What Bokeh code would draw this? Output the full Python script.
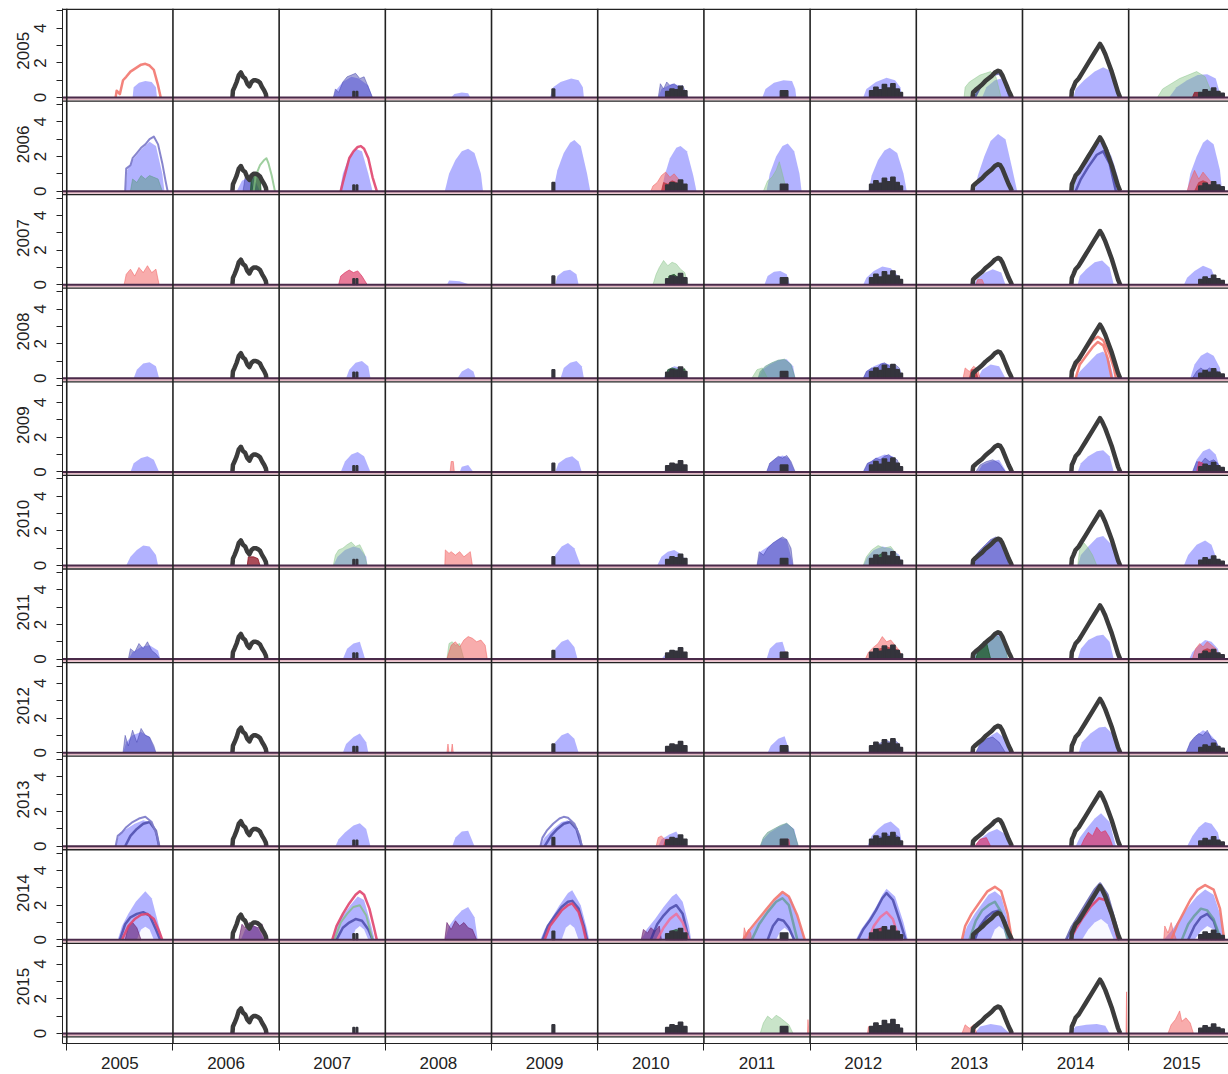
from bokeh.plotting import figure
from bokeh.models import Range1d, FixedTicker, LinearAxis
from bokeh.embed import file_html
from bokeh.resources import INLINE

YEARS = [2005, 2006, 2007, 2008, 2009, 2010, 2011, 2012, 2013, 2014, 2015]
YLAB = ["0", "", "2", "", "4", ""]

# ---- observed series (black), same in every row of a column ----
BLACK_LINE = {
    2006: ([0.56, 0.565, 0.58, 0.6, 0.62, 0.64, 0.66, 0.68, 0.7, 0.72, 0.74, 0.76, 0.78, 0.8, 0.82, 0.84, 0.86, 0.875, 0.88],
           [0, 0.4, 0.6, 0.9, 1.3, 1.45, 1.2, 1.1, 0.8, 0.65, 0.9, 1.0, 1.0, 0.95, 0.85, 0.6, 0.4, 0.2, 0]),
    2013: ([0.53, 0.535, 0.56, 0.59, 0.62, 0.65, 0.68, 0.71, 0.74, 0.77, 0.79, 0.81, 0.83, 0.85, 0.87, 0.89, 0.9],
           [0, 0.3, 0.45, 0.6, 0.75, 0.95, 1.1, 1.25, 1.45, 1.55, 1.5, 1.3, 1.0, 0.7, 0.4, 0.15, 0]),
    2014: ([0.46, 0.465, 0.48, 0.5, 0.53, 0.56, 0.59, 0.62, 0.65, 0.68, 0.71, 0.73, 0.75, 0.78, 0.81, 0.84, 0.87, 0.9, 0.92],
           [0, 0.4, 0.6, 0.9, 1.1, 1.4, 1.7, 2.0, 2.3, 2.6, 2.9, 3.1, 2.9, 2.5, 2.0, 1.5, 0.9, 0.3, 0]),
}
BLACK_BLOCK = {
    2007: [(0.695, 0.71, 0.35), (0.725, 0.74, 0.35)],
    2009: [(0.57, 0.595, 0.5)],
    2010: [(0.64, 0.68, 0.35), (0.68, 0.72, 0.5), (0.72, 0.76, 0.45), (0.76, 0.8, 0.65), (0.8, 0.84, 0.4)],
    2011: [(0.72, 0.79, 0.4)],
    2012: [(0.56, 0.6, 0.4), (0.6, 0.64, 0.6), (0.64, 0.68, 0.45), (0.68, 0.72, 0.75), (0.72, 0.76, 0.55),
           (0.76, 0.8, 0.8), (0.8, 0.84, 0.5), (0.84, 0.87, 0.3)],
    2015: [(0.66, 0.7, 0.3), (0.7, 0.74, 0.45), (0.74, 0.78, 0.35), (0.78, 0.82, 0.55), (0.82, 0.86, 0.35), (0.86, 0.9, 0.25)],
}

# ---- blue prediction envelopes: row year -> {column year: (x fractions, values)} ----
BLUE_2005 = {
    2005: ([0.62, 0.63, 0.68, 0.74, 0.8, 0.84, 0.85], [0, 0.6, 0.85, 0.95, 0.9, 0.6, 0]),
    2007: ([0.51, 0.53, 0.6, 0.68, 0.75, 0.84, 0.88], [0, 0.4, 0.9, 1.2, 1.1, 0.7, 0]),
    2008: ([0.62, 0.65, 0.72, 0.78, 0.8], [0, 0.2, 0.3, 0.25, 0]),
    2009: ([0.55, 0.58, 0.65, 0.75, 0.82, 0.86, 0.87], [0, 0.6, 0.9, 1.1, 1.0, 0.6, 0]),
    2010: ([0.57, 0.6, 0.7, 0.78, 0.85], [0, 0.5, 0.8, 0.7, 0]),
    2011: ([0.55, 0.58, 0.66, 0.75, 0.83, 0.86, 0.87], [0, 0.5, 0.85, 1.0, 0.95, 0.5, 0]),
    2012: ([0.5, 0.53, 0.62, 0.72, 0.8, 0.85, 0.87], [0, 0.5, 0.9, 1.15, 1.0, 0.6, 0]),
    2013: ([0.62, 0.66, 0.74, 0.8, 0.86, 0.89], [0, 0.6, 1.0, 1.1, 0.6, 0]),
    2014: ([0.48, 0.5, 0.58, 0.68, 0.76, 0.84, 0.88, 0.9], [0, 0.5, 1.0, 1.5, 1.75, 1.5, 0.8, 0]),
    2015: ([0.38, 0.45, 0.55, 0.65, 0.74, 0.82, 0.87], [0, 0.6, 1.0, 1.3, 1.35, 1.1, 0]),
}
BLUE_2006 = {
    2005: ([0.55, 0.57, 0.62, 0.7, 0.78, 0.84, 0.9, 0.92], [0, 1.2, 1.8, 2.4, 2.85, 2.6, 1.0, 0]),
    2006: ([0.6, 0.65, 0.75, 0.82], [0, 0.6, 0.9, 0]),
    2007: ([0.57, 0.6, 0.66, 0.72, 0.78, 0.84, 0.88], [0, 1.0, 2.0, 2.45, 2.3, 1.0, 0]),
    2008: ([0.56, 0.6, 0.66, 0.72, 0.78, 0.84, 0.9, 0.92], [0, 1.0, 1.8, 2.3, 2.45, 2.2, 1.0, 0]),
    2009: ([0.58, 0.62, 0.68, 0.74, 0.78, 0.84, 0.9, 0.93], [0, 1.2, 2.2, 2.8, 2.95, 2.6, 1.0, 0]),
    2010: ([0.6, 0.63, 0.68, 0.74, 0.78, 0.84, 0.9, 0.93], [0, 0.9, 1.9, 2.5, 2.6, 2.3, 0.9, 0]),
    2011: ([0.59, 0.62, 0.68, 0.74, 0.79, 0.85, 0.9, 0.92], [0, 1.0, 2.0, 2.6, 2.75, 2.3, 1.0, 0]),
    2012: ([0.55, 0.58, 0.64, 0.7, 0.75, 0.82, 0.88, 0.91], [0, 0.9, 1.8, 2.35, 2.5, 2.2, 1.0, 0]),
    2013: ([0.55, 0.58, 0.64, 0.7, 0.77, 0.84, 0.9, 0.95], [0, 0.9, 2.0, 2.9, 3.3, 3.0, 1.4, 0]),
    2014: ([0.46, 0.48, 0.55, 0.62, 0.7, 0.76, 0.84, 0.9, 0.92], [0, 0.5, 1.3, 2.0, 2.7, 2.9, 2.0, 0.8, 0]),
    2015: ([0.55, 0.58, 0.64, 0.7, 0.74, 0.8, 0.86, 0.88], [0, 1.0, 2.0, 2.8, 3.0, 2.7, 1.2, 0]),
}
BLUE_2007 = {
    2008: ([0.58, 0.6, 0.7, 0.8], [0, 0.25, 0.2, 0]),
    2009: ([0.6, 0.62, 0.68, 0.74, 0.8, 0.82], [0, 0.5, 0.8, 0.86, 0.6, 0]),
    2011: ([0.57, 0.6, 0.66, 0.72, 0.78, 0.81], [0, 0.5, 0.75, 0.8, 0.6, 0]),
    2012: ([0.5, 0.53, 0.6, 0.68, 0.76, 0.83, 0.85], [0, 0.4, 0.8, 1.05, 0.95, 0.5, 0]),
    2013: ([0.54, 0.58, 0.65, 0.72, 0.8, 0.84], [0, 0.4, 0.7, 0.9, 0.7, 0]),
    2014: ([0.52, 0.54, 0.6, 0.68, 0.75, 0.82, 0.86], [0, 0.5, 0.9, 1.3, 1.4, 1.0, 0]),
    2015: ([0.52, 0.55, 0.62, 0.7, 0.78, 0.84], [0, 0.4, 0.8, 1.1, 0.9, 0]),
}
BLUE_2008 = {
    2005: ([0.63, 0.66, 0.72, 0.78, 0.84, 0.87], [0, 0.5, 0.85, 0.93, 0.7, 0]),
    2007: ([0.63, 0.66, 0.72, 0.78, 0.84, 0.86], [0, 0.5, 0.9, 1.0, 0.7, 0]),
    2008: ([0.68, 0.72, 0.78, 0.83, 0.85], [0, 0.4, 0.6, 0.4, 0]),
    2009: ([0.65, 0.68, 0.74, 0.8, 0.85, 0.87], [0, 0.6, 0.9, 1.0, 0.7, 0]),
    2010: ([0.62, 0.66, 0.72, 0.8, 0.85], [0, 0.5, 0.7, 0.6, 0]),
    2011: ([0.51, 0.55, 0.62, 0.7, 0.78, 0.84, 0.86], [0, 0.5, 0.8, 1.05, 1.1, 0.7, 0]),
    2012: ([0.5, 0.53, 0.6, 0.68, 0.75, 0.82, 0.87], [0, 0.4, 0.7, 0.9, 0.8, 0.6, 0]),
    2013: ([0.58, 0.62, 0.7, 0.78, 0.84], [0, 0.5, 0.8, 0.7, 0]),
    2014: ([0.5, 0.54, 0.62, 0.7, 0.76, 0.82, 0.86], [0, 0.4, 0.9, 1.4, 1.55, 1.0, 0]),
    2015: ([0.58, 0.62, 0.68, 0.74, 0.8, 0.86, 0.87], [0, 0.8, 1.3, 1.5, 1.3, 0.6, 0]),
}
BLUE_2009 = {
    2005: ([0.6, 0.63, 0.7, 0.76, 0.82, 0.87], [0, 0.5, 0.8, 0.9, 0.7, 0]),
    2007: ([0.58, 0.62, 0.68, 0.74, 0.8, 0.86], [0, 0.6, 1.0, 1.15, 0.9, 0]),
    2008: ([0.7, 0.72, 0.78, 0.83], [0, 0.3, 0.4, 0]),
    2009: ([0.6, 0.63, 0.7, 0.76, 0.82, 0.85], [0, 0.5, 0.8, 0.9, 0.6, 0]),
    2010: ([0.62, 0.66, 0.74, 0.84], [0, 0.3, 0.4, 0]),
    2011: ([0.59, 0.62, 0.68, 0.74, 0.8, 0.86], [0, 0.5, 0.8, 0.95, 0.8, 0]),
    2012: ([0.5, 0.54, 0.62, 0.7, 0.78, 0.87], [0, 0.5, 0.8, 1.0, 0.9, 0]),
    2013: ([0.58, 0.62, 0.7, 0.78, 0.85], [0, 0.4, 0.6, 0.7, 0]),
    2014: ([0.52, 0.55, 0.62, 0.7, 0.76, 0.82, 0.86], [0, 0.5, 0.9, 1.2, 1.25, 0.9, 0]),
    2015: ([0.6, 0.64, 0.7, 0.76, 0.82, 0.87], [0, 0.7, 1.2, 1.35, 1.0, 0]),
}
BLUE_2010 = {
    2005: ([0.56, 0.6, 0.66, 0.72, 0.78, 0.84, 0.86], [0, 0.5, 0.9, 1.15, 1.1, 0.6, 0]),
    2007: ([0.51, 0.55, 0.62, 0.7, 0.76, 0.82, 0.83], [0, 0.5, 0.9, 1.1, 1.0, 0.5, 0]),
    2009: ([0.57, 0.6, 0.66, 0.72, 0.78, 0.84], [0, 0.6, 1.1, 1.3, 1.0, 0]),
    2010: ([0.56, 0.6, 0.66, 0.72, 0.8, 0.84], [0, 0.5, 0.8, 0.9, 0.6, 0]),
    2011: ([0.5, 0.53, 0.58, 0.65, 0.72, 0.78, 0.84], [0, 0.8, 1.0, 1.3, 1.6, 1.5, 0]),
    2012: ([0.5, 0.54, 0.6, 0.68, 0.76, 0.84, 0.87], [0, 0.5, 0.9, 1.1, 1.0, 0.6, 0]),
    2013: ([0.53, 0.56, 0.62, 0.7, 0.78, 0.84, 0.87], [0, 0.6, 1.0, 1.5, 1.6, 1.0, 0]),
    2014: ([0.52, 0.55, 0.62, 0.7, 0.76, 0.84, 0.9], [0, 0.6, 1.1, 1.6, 1.7, 1.2, 0]),
    2015: ([0.52, 0.56, 0.64, 0.72, 0.78, 0.85], [0, 0.6, 1.2, 1.45, 1.2, 0]),
}
BLUE_2011 = {
    2005: ([0.58, 0.62, 0.7, 0.78, 0.86, 0.88], [0, 0.4, 0.7, 0.8, 0.5, 0]),
    2007: ([0.6, 0.64, 0.7, 0.76, 0.81], [0, 0.6, 0.9, 1.0, 0]),
    2009: ([0.57, 0.6, 0.66, 0.72, 0.78, 0.81], [0, 0.6, 1.0, 1.15, 0.7, 0]),
    2010: ([0.6, 0.64, 0.72, 0.8, 0.84], [0, 0.3, 0.5, 0.4, 0]),
    2011: ([0.59, 0.62, 0.68, 0.74, 0.79], [0, 0.6, 0.95, 1.0, 0]),
    2013: ([0.54, 0.57, 0.62, 0.7, 0.78, 0.84, 0.86], [0, 0.5, 0.9, 1.3, 1.4, 0.8, 0]),
    2014: ([0.52, 0.55, 0.62, 0.7, 0.76, 0.82, 0.86], [0, 0.6, 1.1, 1.35, 1.4, 1.0, 0]),
    2015: ([0.57, 0.6, 0.66, 0.72, 0.78, 0.84, 0.87], [0, 0.4, 0.8, 1.1, 1.0, 0.6, 0]),
}
BLUE_2012 = {
    2005: ([0.53, 0.56, 0.62, 0.7, 0.78, 0.84], [0, 0.6, 1.0, 1.2, 0.9, 0]),
    2007: ([0.6, 0.63, 0.7, 0.76, 0.82, 0.84], [0, 0.5, 0.9, 1.1, 0.6, 0]),
    2009: ([0.57, 0.6, 0.66, 0.72, 0.78, 0.82], [0, 0.6, 1.0, 1.15, 0.8, 0]),
    2011: ([0.6, 0.63, 0.7, 0.76, 0.81], [0, 0.4, 0.8, 0.95, 0]),
    2013: ([0.56, 0.6, 0.68, 0.76, 0.84, 0.88], [0, 0.5, 0.9, 1.2, 0.8, 0]),
    2014: ([0.53, 0.56, 0.64, 0.72, 0.78, 0.86, 0.9], [0, 0.6, 1.1, 1.45, 1.5, 1.0, 0]),
    2015: ([0.54, 0.58, 0.64, 0.7, 0.76, 0.82, 0.87], [0, 0.6, 1.0, 1.3, 1.1, 0.7, 0]),
}
BLUE_2013 = {
    2005: ([0.46, 0.5, 0.56, 0.64, 0.72, 0.78, 0.84, 0.87], [0, 0.8, 1.0, 1.3, 1.5, 1.4, 0.8, 0]),
    2007: ([0.53, 0.56, 0.62, 0.7, 0.76, 0.82, 0.86], [0, 0.4, 0.8, 1.2, 1.33, 1.0, 0]),
    2008: ([0.63, 0.66, 0.72, 0.78, 0.84], [0, 0.5, 0.85, 0.9, 0]),
    2009: ([0.46, 0.5, 0.58, 0.66, 0.72, 0.8, 0.85], [0, 0.5, 1.0, 1.4, 1.5, 1.0, 0]),
    2010: ([0.57, 0.6, 0.68, 0.74, 0.82], [0, 0.4, 0.7, 0.85, 0]),
    2011: ([0.53, 0.56, 0.62, 0.7, 0.78, 0.85, 0.89], [0, 0.4, 0.8, 1.1, 1.33, 1.0, 0]),
    2012: ([0.54, 0.58, 0.64, 0.7, 0.76, 0.84, 0.87], [0, 0.6, 1.0, 1.3, 1.43, 1.0, 0]),
    2013: ([0.55, 0.6, 0.68, 0.76, 0.84, 0.88], [0, 0.4, 0.8, 1.0, 0.7, 0]),
    2014: ([0.5, 0.54, 0.6, 0.68, 0.74, 0.82, 0.88], [0, 0.5, 1.0, 1.6, 1.9, 1.4, 0]),
    2015: ([0.55, 0.6, 0.66, 0.72, 0.78, 0.84, 0.87], [0, 0.6, 1.1, 1.4, 1.3, 0.8, 0]),
}
BLUE_2014 = {
    2005: ([0.48, 0.52, 0.58, 0.65, 0.74, 0.8, 0.86, 0.9], [0, 0.8, 1.5, 2.2, 2.8, 2.4, 1.0, 0]),
    2006: ([0.64, 0.68, 0.74, 0.8, 0.86], [0, 0.6, 0.9, 0.7, 0]),
    2007: ([0.5, 0.54, 0.6, 0.67, 0.74, 0.8, 0.86, 0.9], [0, 0.8, 1.4, 2.0, 2.5, 2.3, 1.0, 0]),
    2008: ([0.56, 0.6, 0.66, 0.72, 0.78, 0.84, 0.87], [0, 0.8, 1.3, 1.7, 1.9, 1.3, 0]),
    2009: ([0.46, 0.5, 0.56, 0.64, 0.72, 0.76, 0.84, 0.9, 0.92], [0, 0.6, 1.2, 2.0, 2.7, 2.86, 2.0, 0.6, 0]),
    2010: ([0.41, 0.46, 0.54, 0.62, 0.7, 0.74, 0.8, 0.86, 0.88], [0, 0.6, 1.2, 1.9, 2.5, 2.67, 2.2, 0.8, 0]),
    2011: ([0.37, 0.42, 0.5, 0.58, 0.66, 0.74, 0.82, 0.9, 0.95], [0, 0.4, 1.0, 1.6, 2.2, 2.7, 2.4, 1.0, 0]),
    2012: ([0.43, 0.48, 0.55, 0.62, 0.68, 0.72, 0.8, 0.88, 0.92], [0, 0.6, 1.2, 1.9, 2.6, 2.95, 2.5, 1.0, 0]),
    2013: ([0.43, 0.48, 0.55, 0.62, 0.68, 0.74, 0.8, 0.86, 0.9], [0, 0.8, 1.5, 2.1, 2.6, 2.8, 2.5, 1.2, 0]),
    2014: ([0.41, 0.46, 0.52, 0.6, 0.68, 0.73, 0.8, 0.87, 0.92], [0, 0.6, 1.2, 2.0, 2.8, 3.1, 2.5, 1.0, 0]),
    2015: ([0.33, 0.4, 0.48, 0.56, 0.64, 0.72, 0.8, 0.86, 0.9], [0, 0.5, 1.2, 1.9, 2.5, 2.9, 2.6, 1.5, 0]),
}
BLUE_2015 = {
    2013: ([0.55, 0.6, 0.7, 0.8, 0.88], [0, 0.4, 0.55, 0.45, 0]),
    2014: ([0.45, 0.5, 0.6, 0.7, 0.78, 0.82], [0, 0.4, 0.5, 0.55, 0.45, 0]),
}

# white gaps under the 2014 envelopes
HOLES_2014 = {
    2005: ([0.66, 0.7, 0.74, 0.78, 0.82], [0, 0.6, 0.75, 0.6, 0]),
    2007: ([0.68, 0.72, 0.76, 0.8, 0.84], [0, 0.6, 0.8, 0.6, 0]),
    2009: ([0.66, 0.7, 0.74, 0.78, 0.82], [0, 0.7, 0.9, 0.7, 0]),
    2011: ([0.68, 0.72, 0.76, 0.8, 0.84], [0, 0.5, 0.7, 0.5, 0]),
    2013: ([0.7, 0.74, 0.78, 0.82, 0.86], [0, 0.6, 0.8, 0.6, 0]),
    2014: ([0.56, 0.62, 0.68, 0.74, 0.8, 0.86], [0, 0.6, 1.0, 1.2, 0.9, 0]),
    2015: ([0.62, 0.68, 0.74, 0.8, 0.86], [0, 0.5, 0.8, 0.6, 0]),
}

# ---- other series: (column year, series, x fractions, values) ----
EXTRA_2005 = [
    (2005, "salmon", [0.46, 0.47, 0.5, 0.53, 0.56, 0.6, 0.65, 0.7, 0.74, 0.78, 0.82, 0.86, 0.885],
     [0, 0.4, 0.2, 1.0, 1.2, 1.5, 1.7, 1.9, 1.95, 1.85, 1.6, 0.7, 0]),
    (2007, "navy_f", [0.51, 0.53, 0.56, 0.6, 0.64, 0.68, 0.72, 0.76, 0.8, 0.84, 0.88],
     [0, 0.5, 0.3, 0.9, 1.2, 1.3, 1.4, 1.1, 1.2, 0.6, 0]),
    (2010, "navy_f", [0.57, 0.59, 0.62, 0.65, 0.68, 0.72, 0.76, 0.8, 0.85], [0, 0.8, 0.5, 0.9, 0.7, 0.8, 0.6, 0.7, 0]),
    (2013, "green_f", [0.45, 0.46, 0.5, 0.55, 0.6, 0.65, 0.7, 0.75, 0.8], [0, 0.6, 0.9, 1.1, 1.3, 1.4, 1.5, 1.2, 0]),
    (2013, "navy", [0.55, 0.6, 0.66, 0.72, 0.78, 0.84, 0.88], [0, 0.6, 1.0, 1.3, 1.4, 0.9, 0]),
    (2015, "green_f", [0.27, 0.32, 0.4, 0.48, 0.56, 0.64, 0.72, 0.8], [0, 0.5, 0.8, 1.1, 1.3, 1.5, 1.2, 0]),
    (2015, "dred_f", [0.6, 0.62, 0.66, 0.7], [0, 0.3, 0.3, 0]),
]
EXTRA_2006 = [
    (2005, "lav", [0.55, 0.56, 0.6, 0.62, 0.66, 0.7, 0.74, 0.78, 0.82, 0.86, 0.9, 0.93, 0.95],
     [0, 1.3, 1.5, 1.9, 2.2, 2.5, 2.7, 3.0, 3.15, 2.7, 1.6, 0.6, 0]),
    (2005, "teal_f", [0.6, 0.62, 0.66, 0.7, 0.74, 0.78, 0.82, 0.86, 0.9], [0, 0.7, 0.5, 0.9, 0.7, 0.9, 0.8, 0.7, 0]),
    (2006, "green", [0.76, 0.78, 0.82, 0.86, 0.88, 0.9, 0.93, 0.96], [0, 0.9, 1.5, 1.8, 1.9, 1.6, 0.9, 0]),
    (2006, "dgreen_f", [0.73, 0.74, 0.78, 0.82, 0.83], [0, 0.95, 1.0, 0.9, 0]),
    (2006, "navy_f", [0.66, 0.68, 0.72, 0.76], [0, 0.8, 0.9, 0]),
    (2007, "crimson", [0.58, 0.6, 0.63, 0.66, 0.7, 0.74, 0.77, 0.8, 0.84, 0.88, 0.92],
     [0, 0.5, 1.2, 1.9, 2.3, 2.55, 2.6, 2.45, 1.9, 0.8, 0]),
    (2010, "red_f", [0.5, 0.52, 0.56, 0.6, 0.64, 0.68, 0.72, 0.76, 0.8], [0, 0.3, 0.5, 0.9, 1.1, 0.8, 1.0, 0.7, 0]),
    (2010, "dred_f", [0.6, 0.62, 0.66, 0.7, 0.74, 0.78], [0, 0.5, 0.4, 0.6, 0.5, 0]),
    (2011, "green_f", [0.56, 0.6, 0.64, 0.68, 0.71, 0.74, 0.78], [0, 0.6, 0.8, 1.2, 1.7, 1.0, 0]),
    (2014, "navy", [0.5, 0.55, 0.62, 0.7, 0.76, 0.82, 0.88], [0, 0.7, 1.4, 2.1, 2.3, 1.6, 0]),
    (2014, "green", [0.47, 0.5, 0.58, 0.66, 0.73, 0.8, 0.86, 0.92], [0, 0.9, 1.7, 2.5, 3.05, 2.4, 1.2, 0]),
    (2015, "red_f", [0.55, 0.58, 0.62, 0.66, 0.7, 0.74, 0.78, 0.8], [0, 0.6, 1.2, 0.7, 1.1, 0.8, 0.5, 0]),
    (2015, "dred_f", [0.62, 0.66, 0.7, 0.74, 0.78], [0, 0.5, 0.6, 0.5, 0]),
]
EXTRA_2007 = [
    (2005, "red_f", [0.54, 0.56, 0.6, 0.64, 0.68, 0.72, 0.76, 0.8, 0.84, 0.87], [0, 0.6, 0.9, 0.5, 1.0, 0.7, 1.1, 0.7, 0.9, 0]),
    (2007, "crimson_f", [0.56, 0.58, 0.62, 0.66, 0.7, 0.74, 0.78, 0.83], [0, 0.5, 0.7, 0.85, 0.7, 0.8, 0.5, 0]),
    (2010, "green_f", [0.52, 0.55, 0.58, 0.62, 0.66, 0.7, 0.74, 0.78, 0.82, 0.85], [0, 0.6, 1.0, 1.4, 1.1, 1.3, 1.2, 0.9, 0.7, 0]),
    (2010, "dgreen_f", [0.66, 0.67, 0.72, 0.76, 0.8, 0.82], [0, 0.5, 0.6, 0.4, 0.5, 0]),
    (2013, "red_f", [0.56, 0.58, 0.62, 0.64], [0, 0.3, 0.3, 0]),
]
EXTRA_2008 = [
    (2010, "dgreen_f", [0.64, 0.66, 0.7, 0.76, 0.82, 0.84], [0, 0.5, 0.6, 0.5, 0.55, 0]),
    (2011, "teal_f", [0.51, 0.53, 0.58, 0.64, 0.7, 0.76, 0.82, 0.86], [0, 0.4, 0.7, 0.9, 1.05, 1.1, 0.8, 0]),
    (2011, "green_f", [0.45, 0.5, 0.55, 0.6], [0, 0.5, 0.6, 0]),
    (2012, "navy_f", [0.5, 0.53, 0.58, 0.62, 0.66, 0.7, 0.75, 0.8, 0.84, 0.87], [0, 0.4, 0.6, 0.5, 0.8, 0.9, 0.7, 0.8, 0.6, 0]),
    (2013, "red_f", [0.44, 0.46, 0.5, 0.54, 0.58, 0.6], [0, 0.6, 0.4, 0.7, 0.5, 0]),
    (2013, "dred_f", [0.5, 0.52, 0.56, 0.58], [0, 0.5, 0.5, 0]),
    (2014, "salmon", [0.46, 0.48, 0.54, 0.6, 0.66, 0.71, 0.76, 0.82, 0.86, 0.88], [0, 0.5, 1.1, 1.7, 2.2, 2.4, 2.2, 1.4, 0.6, 0]),
    (2014, "salmon", [0.5, 0.54, 0.6, 0.66, 0.71, 0.76, 0.8, 0.84], [0, 0.8, 1.3, 1.8, 2.1, 1.9, 1.2, 0]),
    (2015, "navy_f", [0.6, 0.64, 0.68, 0.72, 0.76, 0.8, 0.84, 0.87], [0, 0.4, 0.6, 0.4, 0.6, 0.5, 0.4, 0]),
]
EXTRA_2009 = [
    (2008, "red_f", [0.61, 0.62, 0.64, 0.65], [0, 0.6, 0.6, 0]),
    (2011, "navy_f", [0.59, 0.62, 0.66, 0.7, 0.74, 0.78, 0.82, 0.86], [0, 0.5, 0.7, 0.9, 0.8, 0.95, 0.6, 0]),
    (2012, "navy_f", [0.5, 0.54, 0.58, 0.62, 0.66, 0.7, 0.74, 0.78, 0.82, 0.87], [0, 0.5, 0.6, 0.8, 0.7, 0.9, 1.0, 0.8, 0.7, 0]),
    (2013, "navy_f", [0.56, 0.6, 0.66, 0.72, 0.78, 0.84], [0, 0.4, 0.6, 0.7, 0.5, 0]),
    (2015, "navy_f", [0.6, 0.64, 0.68, 0.72, 0.76, 0.8, 0.84, 0.87], [0, 0.6, 0.5, 0.8, 0.6, 0.7, 0.5, 0]),
    (2015, "crimson_f", [0.64, 0.66, 0.7, 0.72], [0, 0.6, 0.5, 0]),
]
EXTRA_2010 = [
    (2006, "dred_f", [0.7, 0.71, 0.76, 0.8, 0.82], [0, 0.5, 0.5, 0.4, 0]),
    (2007, "green_f", [0.51, 0.53, 0.56, 0.6, 0.64, 0.68, 0.72, 0.76, 0.8, 0.83], [0, 0.6, 0.9, 1.0, 1.2, 1.35, 1.1, 1.2, 0.7, 0]),
    (2008, "red_f", [0.56, 0.565, 0.6, 0.62, 0.66, 0.7, 0.74, 0.78, 0.8, 0.82], [0, 0.9, 0.7, 0.8, 0.6, 0.8, 0.5, 0.7, 0.8, 0]),
    (2011, "navy_f", [0.5, 0.52, 0.56, 0.6, 0.65, 0.7, 0.74, 0.78, 0.82, 0.84], [0, 0.8, 0.6, 1.0, 1.3, 1.5, 1.65, 1.5, 1.0, 0]),
    (2012, "green_f", [0.5, 0.53, 0.58, 0.64, 0.7, 0.76, 0.82, 0.87], [0, 0.5, 0.9, 1.15, 1.0, 1.1, 0.6, 0]),
    (2012, "dgreen_f", [0.6, 0.62, 0.68, 0.74, 0.8], [0, 0.5, 0.7, 0.5, 0]),
    (2013, "navy_f", [0.53, 0.56, 0.6, 0.65, 0.7, 0.75, 0.8, 0.85, 0.87], [0, 0.6, 0.9, 1.2, 1.5, 1.65, 1.4, 0.8, 0]),
    (2014, "green_f", [0.52, 0.54, 0.58, 0.62, 0.66, 0.7], [0, 1.0, 1.3, 1.0, 0.6, 0]),
]
EXTRA_2011 = [
    (2005, "navy_f", [0.58, 0.6, 0.64, 0.68, 0.72, 0.76, 0.8, 0.84, 0.88], [0, 0.6, 0.4, 0.9, 0.6, 1.0, 0.5, 0.3, 0]),
    (2008, "red_f", [0.58, 0.62, 0.66, 0.7, 0.74, 0.78, 0.82, 0.86, 0.9, 0.94, 0.96], [0, 0.8, 1.0, 0.7, 1.1, 1.3, 1.2, 1.0, 1.1, 0.8, 0]),
    (2008, "green_f", [0.58, 0.6, 0.63, 0.66, 0.7, 0.74], [0, 0.9, 1.0, 0.8, 0.9, 0]),
    (2011, "crimson_f", [0.74, 0.75, 0.78, 0.79], [0, 0.4, 0.4, 0]),
    (2012, "red_f", [0.52, 0.55, 0.6, 0.64, 0.68, 0.72, 0.76, 0.8, 0.84, 0.87], [0, 0.4, 0.7, 0.9, 1.3, 1.0, 1.1, 0.8, 0.5, 0]),
    (2012, "dred_f", [0.56, 0.6, 0.66, 0.72, 0.78, 0.84, 0.86], [0, 0.5, 0.6, 0.7, 0.6, 0.5, 0]),
    (2013, "teal_f", [0.54, 0.57, 0.62, 0.68, 0.74, 0.8, 0.84, 0.86], [0, 0.5, 0.9, 1.2, 1.4, 1.2, 0.8, 0]),
    (2013, "dgreen_f", [0.56, 0.6, 0.66, 0.7], [0, 0.8, 1.0, 0]),
    (2015, "red_f", [0.6, 0.63, 0.67, 0.7, 0.74, 0.78, 0.82, 0.85], [0, 0.6, 0.9, 0.7, 1.0, 0.8, 0.6, 0]),
    (2015, "dred_f", [0.66, 0.7, 0.74, 0.78, 0.82], [0, 0.5, 0.6, 0.5, 0]),
]
EXTRA_2012 = [
    (2005, "navy_f", [0.53, 0.55, 0.58, 0.62, 0.66, 0.7, 0.74, 0.78, 0.82, 0.84], [0, 1.0, 0.4, 1.3, 0.6, 1.4, 1.0, 0.9, 0.4, 0]),
    (2008, "red_f", [0.58, 0.59, 0.6, 0.62, 0.63, 0.64], [0, 0.5, 0, 0, 0.5, 0]),
    (2012, "navy_f", [0.55, 0.6, 0.64, 0.68, 0.72, 0.76, 0.8, 0.84, 0.86], [0, 0.4, 0.5, 0.6, 0.7, 0.6, 0.7, 0.5, 0]),
    (2013, "navy_f", [0.56, 0.6, 0.66, 0.72, 0.78, 0.84], [0, 0.5, 0.8, 0.9, 0.6, 0]),
    (2015, "navy_f", [0.54, 0.58, 0.62, 0.66, 0.7, 0.74, 0.78, 0.82, 0.87], [0, 0.6, 0.9, 1.1, 1.0, 1.3, 0.8, 0.7, 0]),
]
EXTRA_2013 = [
    (2005, "lav", [0.46, 0.48, 0.52, 0.56, 0.62, 0.68, 0.74, 0.8, 0.85, 0.87], [0, 0.6, 0.8, 1.1, 1.4, 1.6, 1.7, 1.4, 0.6, 0]),
    (2005, "navy", [0.55, 0.6, 0.66, 0.72, 0.78, 0.84, 0.87], [0, 0.6, 1.0, 1.3, 1.4, 0.9, 0]),
    (2009, "lav", [0.46, 0.48, 0.52, 0.58, 0.64, 0.68, 0.72, 0.78, 0.83, 0.85], [0, 0.5, 0.9, 1.3, 1.6, 1.7, 1.65, 1.3, 0.6, 0]),
    (2009, "navy", [0.5, 0.56, 0.62, 0.68, 0.74, 0.8, 0.85], [0, 0.6, 1.0, 1.3, 1.4, 1.0, 0]),
    (2010, "red_f", [0.55, 0.57, 0.6, 0.63, 0.65], [0, 0.5, 0.6, 0.4, 0]),
    (2010, "dred_f", [0.62, 0.64, 0.7, 0.72], [0, 0.4, 0.4, 0]),
    (2011, "teal_f", [0.53, 0.56, 0.6, 0.66, 0.72, 0.78, 0.84, 0.89], [0, 0.5, 0.8, 1.0, 1.2, 1.33, 1.0, 0]),
    (2011, "crimson_f", [0.74, 0.75, 0.8, 0.81], [0, 0.4, 0.4, 0]),
    (2012, "navy_f", [0.56, 0.6, 0.64, 0.68, 0.72, 0.76, 0.8, 0.84, 0.87], [0, 0.4, 0.6, 0.5, 0.7, 0.6, 0.7, 0.5, 0]),
    (2013, "crimson_f", [0.55, 0.6, 0.66, 0.7], [0, 0.4, 0.5, 0]),
    (2014, "crimson_f", [0.55, 0.58, 0.62, 0.66, 0.7, 0.74, 0.78, 0.82, 0.85], [0, 0.4, 0.8, 0.6, 1.1, 0.8, 0.9, 0.5, 0]),
]
EXTRA_2014 = [
    (2005, "navy", [0.5, 0.55, 0.6, 0.66, 0.72, 0.78, 0.84, 0.88], [0, 0.9, 1.3, 1.5, 1.6, 1.4, 0.6, 0]),
    (2005, "crimson", [0.52, 0.58, 0.64, 0.7, 0.76, 0.82, 0.87, 0.9], [0, 0.8, 1.2, 1.45, 1.5, 1.2, 0.5, 0]),
    (2005, "purple_f", [0.55, 0.58, 0.62, 0.66, 0.7], [0, 0.8, 1.0, 0.7, 0]),
    (2006, "purple_f", [0.62, 0.65, 0.68, 0.72, 0.76, 0.8, 0.84, 0.88], [0, 0.9, 0.7, 1.0, 0.8, 0.7, 0.9, 0]),
    (2007, "crimson", [0.5, 0.54, 0.6, 0.66, 0.72, 0.76, 0.8, 0.85, 0.89, 0.92], [0, 0.8, 1.5, 2.1, 2.6, 2.8, 2.6, 1.8, 0.8, 0]),
    (2007, "green", [0.52, 0.58, 0.64, 0.7, 0.76, 0.82, 0.88], [0, 1.0, 1.5, 1.9, 2.0, 1.4, 0]),
    (2007, "navy", [0.54, 0.6, 0.66, 0.72, 0.78, 0.84, 0.88], [0, 0.7, 1.0, 1.2, 1.1, 0.6, 0]),
    (2008, "purple_f", [0.56, 0.58, 0.62, 0.66, 0.7, 0.74, 0.78, 0.82, 0.86], [0, 1.0, 0.6, 1.1, 0.8, 1.0, 0.7, 0.6, 0]),
    (2009, "navy", [0.48, 0.53, 0.6, 0.66, 0.72, 0.76, 0.82, 0.87, 0.9], [0, 0.8, 1.4, 1.9, 2.2, 2.25, 1.8, 0.8, 0]),
    (2009, "crimson", [0.5, 0.55, 0.6, 0.66, 0.72, 0.76, 0.82, 0.86, 0.89], [0, 0.8, 1.2, 1.7, 2.0, 2.1, 1.6, 0.8, 0]),
    (2010, "navy", [0.5, 0.56, 0.62, 0.68, 0.74, 0.8, 0.86], [0, 0.9, 1.4, 1.8, 2.0, 1.5, 0]),
    (2010, "pink", [0.56, 0.62, 0.68, 0.74, 0.8, 0.86], [0, 0.7, 1.2, 1.5, 1.0, 0]),
    (2010, "purple_f", [0.41, 0.43, 0.47, 0.5, 0.54, 0.58, 0.6], [0, 0.6, 0.4, 0.7, 0.5, 0.8, 0]),
    (2010, "dgreen_f", [0.68, 0.69, 0.74, 0.78, 0.8], [0, 0.5, 0.6, 0.5, 0]),
    (2011, "salmon", [0.37, 0.42, 0.5, 0.58, 0.66, 0.74, 0.8, 0.88, 0.95], [0, 0.5, 1.1, 1.7, 2.3, 2.76, 2.5, 1.4, 0]),
    (2011, "teal", [0.45, 0.52, 0.6, 0.68, 0.74, 0.8, 0.88], [0, 0.9, 1.6, 2.2, 2.4, 2.0, 0]),
    (2011, "navy", [0.6, 0.65, 0.7, 0.75, 0.8, 0.85], [0, 0.8, 1.2, 1.1, 0.7, 0]),
    (2011, "red_f", [0.37, 0.38, 0.4, 0.42, 0.44, 0.45], [0, 0.7, 0.3, 0.6, 0.4, 0]),
    (2012, "navy", [0.45, 0.5, 0.56, 0.62, 0.68, 0.72, 0.78, 0.85, 0.9], [0, 0.6, 1.1, 1.7, 2.4, 2.7, 2.3, 1.0, 0]),
    (2012, "pink", [0.55, 0.6, 0.66, 0.72, 0.78, 0.84], [0, 0.8, 1.3, 1.6, 1.2, 0]),
    (2012, "dred_f", [0.6, 0.62, 0.68, 0.74, 0.8], [0, 0.6, 0.7, 0.5, 0]),
    (2013, "salmon", [0.43, 0.46, 0.52, 0.6, 0.67, 0.74, 0.8, 0.86, 0.9], [0, 0.8, 1.5, 2.2, 2.8, 3.06, 2.8, 1.5, 0]),
    (2013, "teal", [0.5, 0.56, 0.62, 0.68, 0.74, 0.8, 0.86], [0, 1.1, 1.7, 2.0, 2.2, 1.6, 0]),
    (2013, "navy", [0.55, 0.6, 0.66, 0.72, 0.78, 0.84, 0.87], [0, 0.8, 1.3, 1.6, 1.7, 1.0, 0]),
    (2014, "navy", [0.41, 0.46, 0.52, 0.6, 0.68, 0.73, 0.8, 0.87, 0.92], [0, 0.7, 1.3, 2.1, 2.9, 3.25, 2.6, 1.1, 0]),
    (2014, "crimson", [0.45, 0.5, 0.56, 0.64, 0.72, 0.78, 0.84, 0.9], [0, 0.6, 1.2, 1.9, 2.4, 2.3, 1.4, 0]),
    (2015, "salmon", [0.4, 0.46, 0.52, 0.58, 0.65, 0.72, 0.8, 0.86, 0.9], [0, 0.9, 1.6, 2.3, 2.9, 3.16, 2.9, 1.8, 0]),
    (2015, "teal", [0.5, 0.56, 0.62, 0.68, 0.74, 0.8, 0.87], [0, 0.9, 1.4, 1.8, 1.7, 1.2, 0]),
    (2015, "navy", [0.56, 0.62, 0.68, 0.74, 0.8, 0.86], [0, 0.8, 1.3, 1.5, 1.1, 0]),
    (2015, "red_f", [0.33, 0.34, 0.37, 0.4, 0.42, 0.45], [0, 0.8, 0.4, 1.0, 0.5, 0]),
]
EXTRA_2015 = [
    (2011, "green_f", [0.53, 0.56, 0.6, 0.64, 0.68, 0.72, 0.76, 0.8, 0.84], [0, 0.6, 1.0, 0.8, 1.05, 0.9, 0.7, 0.5, 0]),
    (2011, "dgreen_f", [0.72, 0.73, 0.78, 0.79], [0, 0.3, 0.3, 0]),
    (2011, "red_f", [0.975, 0.98, 0.99], [0, 0.8, 0]),
    (2012, "red_f", [0.54, 0.55, 0.56], [0, 0.4, 0]),
    (2013, "red_f", [0.43, 0.46, 0.5, 0.54, 0.57], [0, 0.5, 0.3, 0.5, 0]),
    (2014, "red_f", [0.975, 0.98, 0.985], [0, 2.4, 0]),
    (2015, "red_f", [0.37, 0.4, 0.44, 0.48, 0.5, 0.54, 0.58, 0.61], [0, 0.5, 0.8, 1.3, 0.7, 0.9, 0.6, 0]),
]

BLUE = {2005: BLUE_2005, 2006: BLUE_2006, 2007: BLUE_2007, 2008: BLUE_2008, 2009: BLUE_2009, 2010: BLUE_2010,
        2011: BLUE_2011, 2012: BLUE_2012, 2013: BLUE_2013, 2014: BLUE_2014, 2015: BLUE_2015}
HOLES = {2014: HOLES_2014}
EXTRA = {2005: EXTRA_2005, 2006: EXTRA_2006, 2007: EXTRA_2007, 2008: EXTRA_2008, 2009: EXTRA_2009, 2010: EXTRA_2010,
         2011: EXTRA_2011, 2012: EXTRA_2012, 2013: EXTRA_2013, 2014: EXTRA_2014, 2015: EXTRA_2015}

STYLES = {
    "salmon": ("line", "#f2766e", 0.9, 2.5),
    "crimson": ("line", "#e0456e", 0.9, 2.5),
    "lav": ("line", "#7a78c8", 0.9, 2.0),
    "navy": ("line", "#2b2b90", 0.65, 2.5),
    "green": ("line", "#7fbf7f", 0.75, 2.0),
    "teal": ("line", "#5f9a90", 0.75, 2.5),
    "pink": ("line", "#ef6f9a", 0.85, 2.5),
    "red_f": ("fill", "#f25a5a", 0.5, 1),
    "green_f": ("fill", "#7fbf7f", 0.42, 1),
    "navy_f": ("fill", "#3a3aa8", 0.45, 1),
    "dred_f": ("fill", "#8e1020", 0.75, 1),
    "dgreen_f": ("fill", "#1f5a2a", 0.75, 1),
    "teal_f": ("fill", "#5f9a8a", 0.55, 1),
    "purple_f": ("fill", "#6a2070", 0.6, 1),
    "crimson_f": ("fill", "#dc3462", 0.65, 1),
}

PITCH = 5.4
NY = len(YEARS)


def base(row):
    return (NY - 1 - YEARS.index(row)) * PITCH


def gxy(row, col, xs, ys):
    c = YEARS.index(col)
    b = base(row)
    return [c + x for x in xs], [b + y for y in ys]


Y_TOP = (NY - 1) * PITCH + 5.14
X_END = 10.94
p = figure(width=1228, height=1074, x_range=Range1d(-0.04, X_END), y_range=Range1d(-0.58, Y_TOP),
           output_backend="svg", toolbar_location=None, min_border_left=62, min_border_right=0,
           min_border_top=8, min_border_bottom=31, outline_line_color=None, background_fill_color="white")
p.grid.visible = False

# blue envelopes
bx, by = [], []
for row, panels in BLUE.items():
    for col, (xs, ys) in panels.items():
        gx, gy = gxy(row, col, xs, ys)
        bx.append(gx)
        by.append(gy)
p.patches(bx, by, fill_color="#0000ff", fill_alpha=0.3, line_color=None)

hx, hy = [], []
for row, panels in HOLES.items():
    for col, (xs, ys) in panels.items():
        gx, gy = gxy(row, col, xs, ys)
        hx.append(gx)
        hy.append(gy)
p.patches(hx, hy, fill_color="white", fill_alpha=0.9, line_color=None)

# other series, fills first, then lines
groups = {}
for row, items in EXTRA.items():
    for col, key, xs, ys in items:
        gx, gy = gxy(row, col, xs, ys)
        groups.setdefault(key, ([], []))
        groups[key][0].append(gx)
        groups[key][1].append(gy)
for key, (gxs, gys) in groups.items():
    kind, color, alpha, width = STYLES[key]
    if kind == "fill":
        p.patches(gxs, gys, fill_color=color, fill_alpha=alpha, line_color=color, line_alpha=alpha, line_width=1)
for key, (gxs, gys) in groups.items():
    kind, color, alpha, width = STYLES[key]
    if kind == "line":
        p.multi_line(gxs, gys, line_color=color, line_alpha=alpha, line_width=width, line_join="round")

# observed black series, repeated in every row
lx, ly = [], []
ql, qr, qb, qt = [], [], [], []
for row in YEARS:
    for col, (xs, ys) in BLACK_LINE.items():
        gx, gy = gxy(row, col, xs, ys)
        lx.append(gx)
        ly.append(gy)
    for col, blocks in BLACK_BLOCK.items():
        for x0, x1, h in blocks:
            gx, gy = gxy(row, col, [x0, x1], [0, h])
            ql.append(gx[0]); qr.append(gx[1]); qb.append(gy[0]); qt.append(gy[1])
p.multi_line(lx, ly, line_color="#3c3c3c", line_width=4.5, line_join="round")
p.quad(left=ql, right=qr, bottom=qb, top=qt, fill_color="#34343c", line_color="#34343c", line_width=1.5)

# panel separators
zeros = [base(r) for r in YEARS]
p.segment(x0=[-0.04] * NY, x1=[X_END] * NY, y0=[z - 0.09 for z in zeros], y1=[z - 0.09 for z in zeros],
          line_color="#e4b8c4", line_width=2)
p.segment(x0=[-0.04] * NY, x1=[X_END] * NY, y0=zeros, y1=zeros, line_color="#4a2a4a", line_width=2)
p.segment(x0=[-0.04] * NY, x1=[X_END] * NY, y0=[z - 0.2 for z in zeros], y1=[z - 0.2 for z in zeros],
          line_color="#222222", line_width=1.3)
p.segment(x0=[-0.04], x1=[X_END], y0=[Y_TOP - 0.04], y1=[Y_TOP - 0.04], line_color="#222222", line_width=1.5)
p.segment(x0=list(range(11)), x1=list(range(11)), y0=[-0.58] * 11, y1=[Y_TOP] * 11,
          line_color="#222222", line_width=1.6)

FONT = "Liberation Sans"
# left axis: 0..5 in each row
yt, yo = [], {}
for r in YEARS:
    for k in range(6):
        v = round(base(r) + k, 3)
        yt.append(v)
        yo[v] = YLAB[k]
ax = p.yaxis[0]
ax.ticker = FixedTicker(ticks=yt, minor_ticks=[])
ax.major_label_overrides = yo
ax.major_label_orientation = "vertical"
ax.major_tick_out = 6
ax.major_tick_in = 0
ax.major_label_standoff = 10
ax.major_label_text_font = FONT
ax.major_label_text_font_size = "17px"
ax.major_label_text_color = "#222222"
ax.axis_line_color = "#222222"
ax.major_tick_line_color = "#222222"

# row year labels
rt = [round(base(r) + 2.7, 3) for r in YEARS]
ya = LinearAxis(ticker=FixedTicker(ticks=rt, minor_ticks=[]),
                major_label_overrides={v: str(r) for v, r in zip(rt, YEARS)},
                major_label_orientation="vertical", major_tick_out=0, major_tick_in=0,
                minor_tick_out=0, minor_tick_in=0, axis_line_color=None, major_label_standoff=2,
                major_label_text_font=FONT, major_label_text_font_size="17px", major_label_text_color="#222222")
p.add_layout(ya, "left")

# bottom axis
xa = p.xaxis[0]
xa.ticker = FixedTicker(ticks=[c + 0.5 for c in range(NY)], minor_ticks=list(range(NY + 1)))
xa.major_label_overrides = {c + 0.5: str(y) for c, y in enumerate(YEARS)}
xa.major_tick_out = 0
xa.major_tick_in = 0
xa.minor_tick_out = 7
xa.minor_tick_in = 0
xa.minor_tick_line_color = "#222222"
xa.axis_line_color = "#222222"
xa.major_label_standoff = 6
xa.major_label_text_font = FONT
xa.major_label_text_font_size = "17px"
xa.major_label_text_color = "#222222"

open("out.html", "w").write(file_html(p, INLINE))
